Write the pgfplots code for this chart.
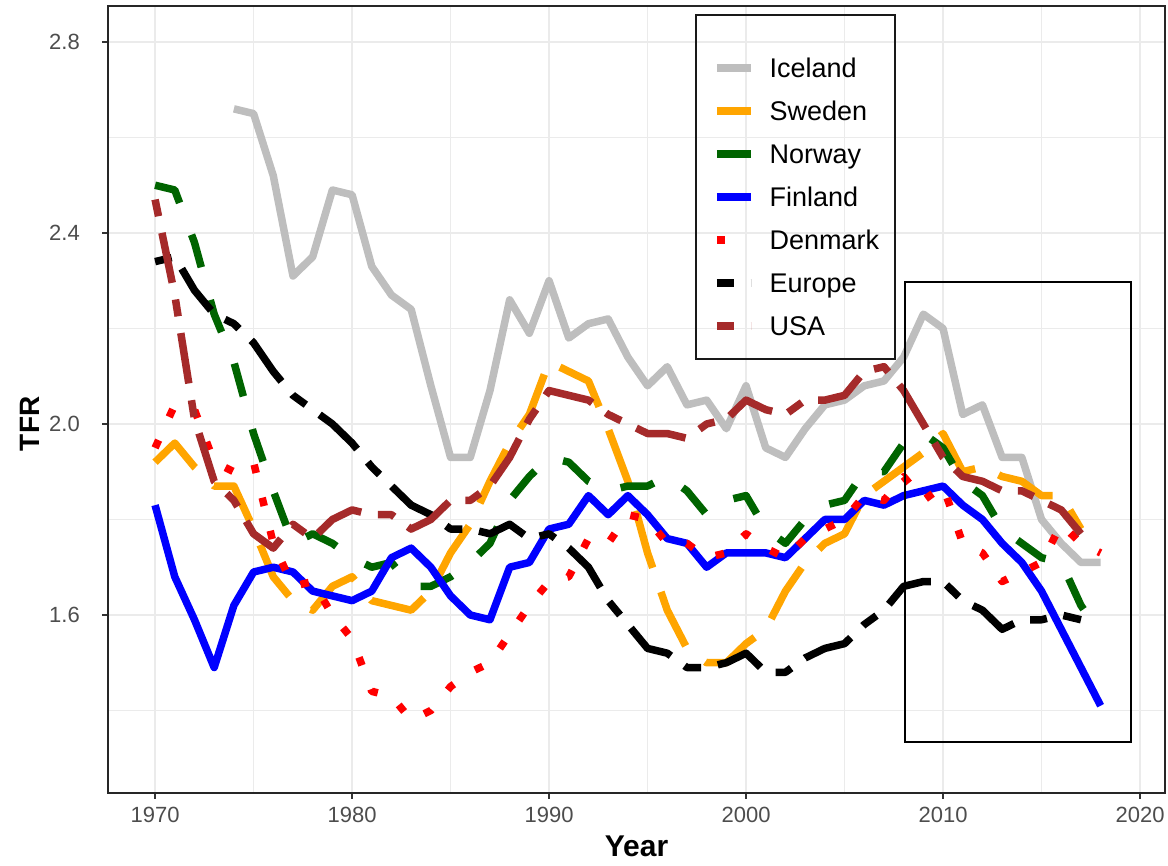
\documentclass[border=0pt]{standalone}
\usepackage{pgfplots}
\pgfplotsset{compat=1.18}
\usepackage{fontspec}
\setmainfont{Liberation Sans}
\definecolor{gridc}{HTML}{EBEBEB}
\definecolor{tickc}{HTML}{4D4D4D}
\definecolor{iceland}{HTML}{BEBEBE}
\definecolor{sweden}{HTML}{FFA500}
\definecolor{norway}{HTML}{006400}
\definecolor{finland}{HTML}{0000FF}
\definecolor{denmark}{HTML}{FF0000}
\definecolor{usa}{HTML}{A52A2A}

\pgfplotstableread{
year v
1974 2.66
1975 2.65
1976 2.52
1977 2.31
1978 2.35
1979 2.49
1980 2.48
1981 2.33
1982 2.27
1983 2.24
1984 2.08
1985 1.93
1986 1.93
1987 2.07
1988 2.26
1989 2.19
1990 2.30
1991 2.18
1992 2.21
1993 2.22
1994 2.14
1995 2.08
1996 2.12
1997 2.04
1998 2.05
1999 1.99
2000 2.08
2001 1.95
2002 1.93
2003 1.99
2004 2.04
2005 2.05
2006 2.08
2007 2.09
2008 2.14
2009 2.23
2010 2.20
2011 2.02
2012 2.04
2013 1.93
2014 1.93
2015 1.80
2016 1.75
2017 1.71
2018 1.71
}\iceland

\pgfplotstableread{
year v
1970 1.92
1971 1.96
1972 1.91
1973 1.87
1974 1.87
1975 1.78
1976 1.68
1977 1.63
1978 1.61
1979 1.66
1980 1.68
1981 1.63
1982 1.62
1983 1.61
1984 1.65
1985 1.73
1986 1.79
1987 1.88
1988 1.96
1989 2.02
1990 2.13
1991 2.11
1992 2.09
1993 1.99
1994 1.88
1995 1.73
1996 1.61
1997 1.53
1998 1.50
1999 1.50
2000 1.54
2001 1.57
2002 1.65
2003 1.71
2004 1.75
2005 1.77
2006 1.85
2007 1.88
2008 1.91
2009 1.94
2010 1.98
2011 1.90
2012 1.91
2013 1.89
2014 1.88
2015 1.85
2016 1.85
2017 1.78
}\sweden

\pgfplotstableread{
year v
1970 2.50
1971 2.49
1972 2.38
1973 2.23
1974 2.13
1975 1.98
1976 1.86
1977 1.75
1978 1.77
1979 1.75
1980 1.72
1981 1.70
1982 1.71
1983 1.66
1984 1.66
1985 1.68
1986 1.71
1987 1.75
1988 1.84
1989 1.89
1990 1.93
1991 1.92
1992 1.88
1993 1.86
1994 1.87
1995 1.87
1996 1.89
1997 1.86
1998 1.81
1999 1.84
2000 1.85
2001 1.78
2002 1.75
2003 1.80
2004 1.83
2005 1.84
2006 1.90
2007 1.90
2008 1.96
2009 1.98
2010 1.95
2011 1.88
2012 1.85
2013 1.78
2014 1.75
2015 1.72
2016 1.71
2017 1.62
2018 1.56
}\norway

\pgfplotstableread{
year v
1970 1.83
1971 1.68
1972 1.59
1973 1.49
1974 1.62
1975 1.69
1976 1.70
1977 1.69
1978 1.65
1979 1.64
1980 1.63
1981 1.65
1982 1.72
1983 1.74
1984 1.70
1985 1.64
1986 1.60
1987 1.59
1988 1.70
1989 1.71
1990 1.78
1991 1.79
1992 1.85
1993 1.81
1994 1.85
1995 1.81
1996 1.76
1997 1.75
1998 1.70
1999 1.73
2000 1.73
2001 1.73
2002 1.72
2003 1.76
2004 1.80
2005 1.80
2006 1.84
2007 1.83
2008 1.85
2009 1.86
2010 1.87
2011 1.83
2012 1.80
2013 1.75
2014 1.71
2015 1.65
2016 1.57
2017 1.49
2018 1.41
}\finland

\pgfplotstableread{
year v
1970 1.95
1971 2.04
1972 2.03
1973 1.92
1974 1.90
1975 1.92
1976 1.75
1977 1.66
1978 1.67
1979 1.60
1980 1.55
1981 1.44
1982 1.43
1983 1.38
1984 1.40
1985 1.45
1986 1.48
1987 1.50
1988 1.56
1989 1.62
1990 1.67
1991 1.68
1992 1.76
1993 1.75
1994 1.81
1995 1.80
1996 1.75
1997 1.75
1998 1.72
1999 1.73
2000 1.77
2001 1.74
2002 1.72
2003 1.76
2004 1.78
2005 1.80
2006 1.85
2007 1.84
2008 1.89
2009 1.84
2010 1.87
2011 1.75
2012 1.73
2013 1.67
2014 1.69
2015 1.71
2016 1.79
2017 1.75
2018 1.73
}\denmark

\pgfplotstableread{
year v
1970 2.34
1971 2.35
1972 2.28
1973 2.23
1974 2.21
1975 2.17
1976 2.11
1977 2.06
1978 2.03
1979 2.00
1980 1.96
1981 1.91
1982 1.87
1983 1.83
1984 1.81
1985 1.78
1986 1.78
1987 1.77
1988 1.79
1989 1.76
1990 1.77
1991 1.74
1992 1.70
1993 1.63
1994 1.58
1995 1.53
1996 1.52
1997 1.49
1998 1.49
1999 1.50
2000 1.52
2001 1.48
2002 1.48
2003 1.51
2004 1.53
2005 1.54
2006 1.58
2007 1.61
2008 1.66
2009 1.67
2010 1.67
2011 1.63
2012 1.61
2013 1.57
2014 1.59
2015 1.59
2016 1.60
2017 1.59
}\europe

\pgfplotstableread{
year v
1970 2.47
1971 2.27
1972 2.01
1973 1.88
1974 1.84
1975 1.77
1976 1.74
1977 1.79
1978 1.76
1979 1.80
1980 1.82
1981 1.81
1982 1.81
1983 1.78
1984 1.80
1985 1.84
1986 1.84
1987 1.87
1988 1.93
1989 2.01
1990 2.07
1991 2.06
1992 2.05
1993 2.02
1994 2.00
1995 1.98
1996 1.98
1997 1.97
1998 2.00
1999 2.01
2000 2.05
2001 2.03
2002 2.02
2003 2.05
2004 2.05
2005 2.06
2006 2.11
2007 2.12
2008 2.07
2009 2.00
2010 1.93
2011 1.89
2012 1.88
2013 1.86
2014 1.86
2015 1.84
2016 1.82
2017 1.77
}\usa

\begin{document}
\begin{tikzpicture}
\begin{axis}[
  scale only axis, width=1057pt, height=787pt,
  xmin=1967.61, xmax=2021.27, ymin=1.2272, ymax=2.8754,
  xtick={1970,1980,...,2020}, ytick={1.6,2.0,2.4,2.8},
  minor xtick={1975,1985,...,2015}, minor ytick={1.4,1.8,2.2,2.6},
  grid=both,
  major grid style={draw=gridc, line width=2.4pt},
  minor grid style={draw=gridc, line width=1.2pt},
  axis line style={draw=black!85, line width=2.4pt},
  xtick pos=bottom, ytick pos=left,
  tick align=outside,
  major tick length=6pt, minor tick length=0pt,
  every tick/.style={draw=black!80, line width=2pt},
  /pgf/number format/assume math mode=true,
  ticklabel style={font=\fontsize{22}{22}\selectfont, text=tickc},
  xticklabel style={/pgf/number format/1000 sep={}, anchor=north, inner sep=0pt, yshift=-8pt},
  yticklabel style={/pgf/number format/.cd, fixed, fixed zerofill, precision=1, /tikz/.cd, anchor=east, inner sep=0pt, xshift=-22pt},
  xlabel={\textbf{Year}}, ylabel={\textbf{TFR}},
  xlabel style={font=\fontsize{30}{30}\selectfont, at={(rel axis cs:0.5,0)}, anchor=base, yshift=-64pt},
  ylabel style={font=\fontsize{28}{28}\selectfont, at={(rel axis cs:0,0.469)}, anchor=base, yshift=68pt},
  legend style={at={(rel axis cs:0.57237,0.93393)}, anchor=north west, draw=none, fill=none,
    inner sep=0pt, outer sep=0pt, row sep=0pt,
    font=\fontsize{27}{27}\selectfont,
    nodes={inner sep=0pt, text height=20pt, text depth=23pt},
    cells={anchor=base west},
    /tikz/every odd column/.append style={column sep=15pt}},
  legend image code/.code={\draw[#1] (0pt,10pt) -- (34pt,10pt);},
  every axis plot/.append style={line width=7.5pt, line join=round, line cap=butt},
]
\addplot[iceland] table[x=year,y=v] {\iceland};
\addlegendentry{Iceland}
\addplot[sweden, dash pattern=on 59.5pt off 25.5pt] table[x=year,y=v] {\sweden};
\addlegendentry{Sweden}
\addplot[norway, dash pattern=on 34pt off 34pt] table[x=year,y=v] {\norway};
\addlegendentry{Norway}
\addplot[finland] table[x=year,y=v] {\finland};
\addlegendentry{Finland}
\addplot[denmark, dash pattern=on 8.5pt off 25.5pt] table[x=year,y=v] {\denmark};
\addlegendentry{Denmark}
\addplot[black, dash pattern=on 17pt off 17pt on 51pt off 17pt] table[x=year,y=v] {\europe};
\addlegendentry{Europe}
\addplot[usa, dash pattern=on 17pt off 17pt on 51pt off 17pt] table[x=year,y=v] {\usa};
\addlegendentry{USA}
\draw[black, line width=2pt] (axis cs:2008.07,1.334) rectangle (axis cs:2019.54,2.297);
\draw[black!90, line width=2.4pt] (rel axis cs:0.5563,0.9886) rectangle (rel axis cs:0.7446,0.5515);
\end{axis}
\pgfresetboundingbox
\useasboundingbox (-108pt,-73pt) rectangle (1060pt,793pt);
\end{tikzpicture}
\end{document}
